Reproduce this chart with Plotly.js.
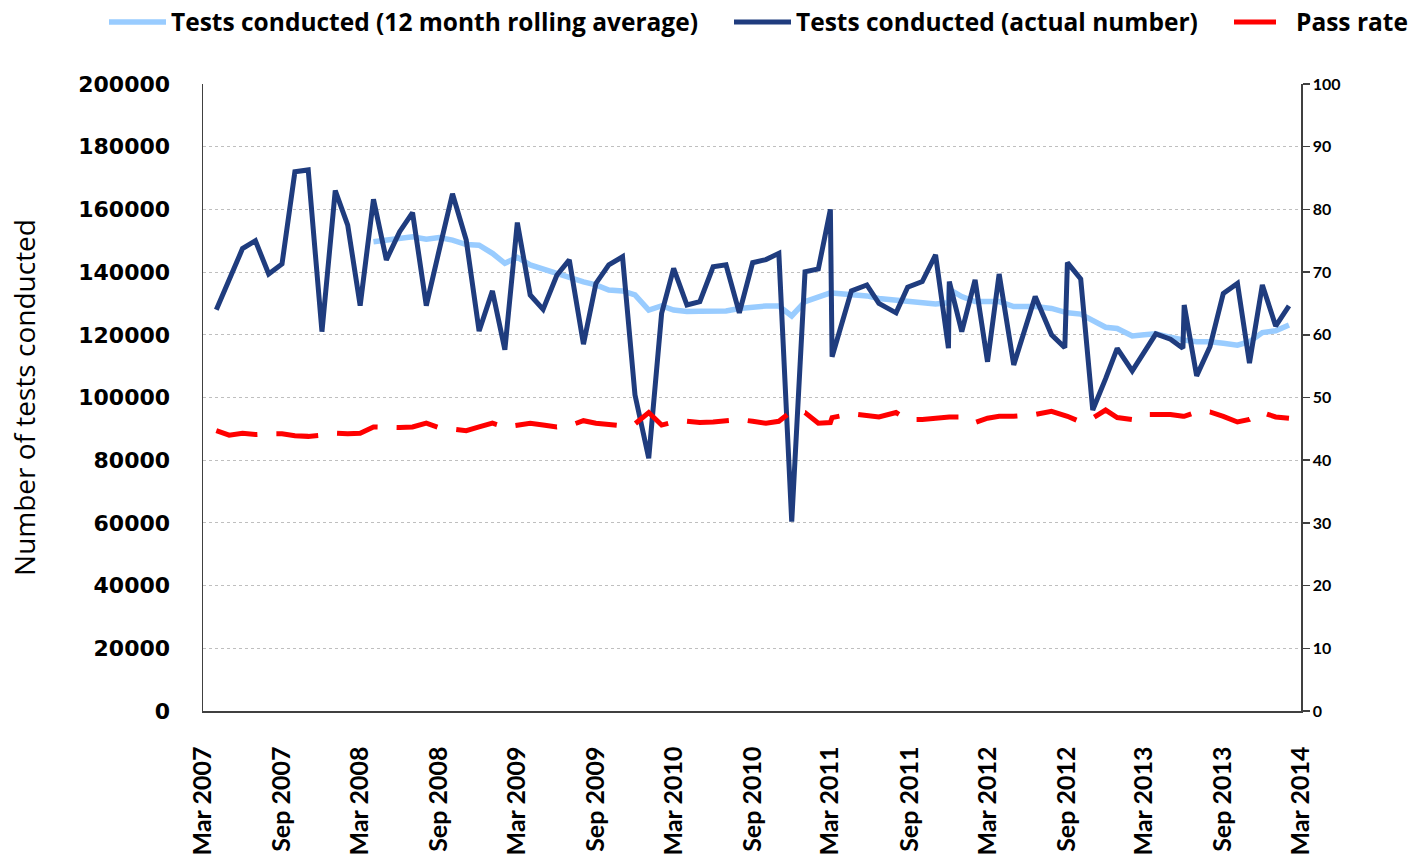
<!DOCTYPE html>
<html>
<head>
<meta charset="utf-8">
<script src="https://cdn.plot.ly/plotly-3.0.1.min.js"></script>
<style>
  html, body { margin: 0; padding: 0; background: #fff; }
  #chart { width: 1424px; height: 859px; }
</style>
</head>
<body>
<div id="chart"></div>
<script>
// Observation dates (monthly, with a few closely spaced duplicate readings)
const months = [
  '2007-04-01','2007-05-01','2007-06-01','2007-07-01','2007-08-01','2007-09-01','2007-10-01','2007-11-01','2007-12-03',
  '2008-01-03','2008-02-01','2008-03-01','2008-04-01','2008-05-01','2008-06-01','2008-07-01','2008-08-02','2008-09-01',
  '2008-10-02','2008-11-03','2008-12-03','2009-01-03','2009-02-01','2009-03-02','2009-04-01','2009-05-01','2009-06-02',
  '2009-07-01','2009-08-03','2009-09-01','2009-10-01','2009-11-02','2009-12-01','2010-01-02','2010-02-01','2010-03-01',
  '2010-04-01','2010-05-01','2010-06-01','2010-07-01','2010-08-01','2010-09-01','2010-10-02','2010-11-01','2010-12-01',
  '2011-01-01','2011-02-01','2011-03-01','2011-03-05','2011-04-19','2011-05-25','2011-06-22','2011-08-01','2011-08-28',
  '2011-10-01','2011-11-01','2011-12-01','2011-12-03','2012-01-01','2012-02-01','2012-03-01','2012-03-28','2012-05-01',
  '2012-06-20','2012-07-28','2012-08-28','2012-09-03','2012-10-04','2012-11-01','2012-12-01','2012-12-28','2013-02-01',
  '2013-03-01','2013-03-28','2013-05-01','2013-05-30','2013-06-02','2013-07-01','2013-08-01','2013-09-01','2013-10-04',
  '2013-11-01','2013-12-01','2014-01-01','2014-02-01'
];

// Tests conducted (actual number)
const testsActual = [
  128000,138000,147500,150000,139400,142600,172000,172600,121000,
  166000,155000,129300,163200,143900,152900,159000,129300,147000,
  165000,150200,121200,134000,115200,155800,132700,128100,139000,
  143900,117000,136400,142300,144900,100800,80600,126800,141200,
  129500,130600,141700,142300,127000,143000,144000,146000,60400,
  140100,141000,160000,113000,134000,135900,130000,127000,135200,
  137000,145500,115700,137000,121000,137500,111400,139400,110400,
  132200,120000,115900,143000,137800,96000,106000,115700,108500,
  114300,120300,118600,115700,129500,106900,116200,133200,136400,
  111000,135900,122800,129200
];

// Tests conducted (12 month rolling average), starting April 2008 (13th date)
const rollingStart = 12;
const testsRolling = [
  149700,150200,151000,151300,150500,151000,
  150200,148800,148600,146000,142800,144700,142300,140900,139400,
  138500,136900,135900,134300,134000,132700,127900,129200,127900,
  127400,127500,127600,127600,128400,129000,129200,129200,126000,
  130600,132200,133400,133300,133000,132400,131600,131100,130900,
  130200,129800,130200,134500,132200,130600,130600,130600,129000,
  129000,128400,127000,127000,126600,124700,122400,122000,119600,
  120000,120300,119200,118300,118300,117800,117800,117300,116700,
  117800,120700,121300,123100
];

// Pass rate (%)
const passRate = [
  44.7,44.0,44.3,44.1,44.2,44.2,43.9,43.8,44.0,
  44.3,44.2,44.3,45.3,45.2,45.2,45.3,45.9,45.2,
  44.9,44.7,45.3,45.9,45.3,45.5,45.9,45.6,45.3,
  45.5,46.3,45.9,45.8,45.5,45.8,47.6,45.6,46.1,
  46.2,46.0,46.1,46.3,46.5,46.2,45.9,46.2,47.8,
  47.6,45.9,46.0,46.8,47.4,47.2,46.9,47.6,46.5,
  46.5,46.7,46.9,46.9,46.9,46.0,46.7,47.0,47.0,
  47.3,47.8,47.2,47.0,46.1,46.7,48.0,46.8,46.5,
  47.3,47.3,47.3,47.0,47.0,47.7,47.7,47.0,46.1,
  46.5,47.6,46.9,46.7
];

const xTickDates = ['2007-03-01','2007-09-01','2008-03-01','2008-09-01','2009-03-01','2009-09-01','2010-03-01','2010-09-01',
                    '2011-03-01','2011-09-01','2012-03-01','2012-09-01','2013-03-01','2013-09-01','2014-03-01'];
const xTickLabels = ['Mar 2007','Sep 2007','Mar 2008','Sep 2008','Mar 2009','Sep 2009','Mar 2010','Sep 2010',
                     'Mar 2011','Sep 2011','Mar 2012','Sep 2012','Mar 2013','Sep 2013','Mar 2014'];

const seriesNames = ['Tests conducted (12 month rolling average)','Tests conducted (actual number)','Pass rate'];

const traces = [
  {
    x: months.slice(rollingStart), y: testsRolling, name: seriesNames[0],
    type: 'scatter', mode: 'lines', yaxis: 'y', legend: 'legend',
    line: {color: '#99CCFF', width: 5.5}
  },
  {
    x: months, y: testsActual, name: seriesNames[1],
    type: 'scatter', mode: 'lines', yaxis: 'y', legend: 'legend2',
    line: {color: '#1F3C7E', width: 5}
  },
  {
    x: months, y: passRate, name: seriesNames[2],
    type: 'scatter', mode: 'lines', yaxis: 'y2', legend: 'legend3',
    line: {color: '#FF0000', width: 5, dash: '42px,19px'}
  }
];

// plot area: x 203..1301, y 84..711
const plotL = 203, plotW = 1098, plotT = 84, plotH = 627;
const legendY = 1 + (plotT - 22) / plotH;
function legendAt(px) {
  return {
    orientation: 'h', xref: 'paper', yref: 'paper',
    x: (px - plotL) / plotW, xanchor: 'left', y: legendY, yanchor: 'middle',
    font: {family: 'Open Sans', size: 24.5, color: '#000', weight: 700},
    itemwidth: 57, bgcolor: 'rgba(0,0,0,0)', borderwidth: 0
  };
}

const layout = {
  width: 1424, height: 859,
  margin: {l: 203, r: 123, t: 84, b: 148, autoexpand: false},
  paper_bgcolor: '#ffffff', plot_bgcolor: '#ffffff',
  showlegend: true,
  hovermode: false,
  legend: legendAt(104),
  legend2: legendAt(729),
  legend3: legendAt(1229),
  xaxis: {
    type: 'date',
    range: ['2007-03-01', '2014-03-01'],
    tickmode: 'array', tickvals: xTickDates, ticktext: xTickLabels,
    tickangle: -90,
    tickfont: {family: 'Lato', size: 25, color: '#000', weight: 700},
    ticks: '', ticklabelstandoff: 24,
    showgrid: false, zeroline: false,
    showline: true, linecolor: '#404040', linewidth: 1.5
  },
  yaxis: {
    range: [0, 200000], dtick: 20000, tick0: 0,
    tickformat: 'd',
    tickfont: {family: 'DejaVu Sans', size: 22, color: '#000', weight: 700},
    ticks: '', ticklabelstandoff: 27,
    showgrid: true, gridcolor: '#BFBFBF', griddash: 'dot', gridwidth: 1,
    zeroline: false,
    showline: true, linecolor: '#404040', linewidth: 1.5,
    title: {text: 'Number of tests conducted', font: {family: 'Open Sans', size: 28, color: '#000'}, standoff: 34}
  },
  yaxis2: {
    overlaying: 'y', side: 'right',
    range: [0, 100], dtick: 10, tick0: 0,
    tickfont: {family: 'Lato', size: 16, color: '#000', weight: 700},
    ticks: 'outside', ticklen: 7, tickcolor: '#404040', tickwidth: 1.5,
    showgrid: false, zeroline: false,
    showline: true, linecolor: '#404040', linewidth: 1.5
  }
};

Plotly.newPlot('chart', traces, layout, {displayModeBar: false, staticPlot: true});
</script>
</body>
</html>
